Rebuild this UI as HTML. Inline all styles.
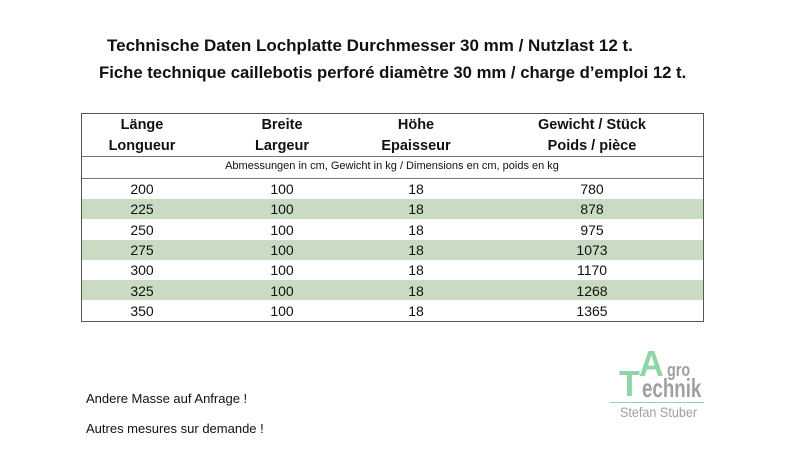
<!DOCTYPE html>
<html><head><meta charset="utf-8"><style>
body{margin:0;width:787px;height:467px;background:#fff;position:relative;font-family:"Liberation Sans","DejaVu Sans",sans-serif;color:#111;overflow:hidden}
.a{position:absolute;white-space:nowrap}
.t{font-weight:bold;font-size:17px}
.c{position:absolute;text-align:center;transform:translateX(-50%);white-space:nowrap;font-size:14px}
.h{font-weight:bold;font-size:14.5px}
.row{position:absolute;left:82px;width:621px;height:20px}
.lg{position:absolute;white-space:nowrap;transform-origin:0 0;font-weight:bold;font-family:"Liberation Sans Narrow","Liberation Sans",sans-serif}
</style></head><body>
<div class="a t" style="left:107px;top:36px">Technische Daten Lochplatte Durchmesser 30 mm / Nutzlast 12 t.</div>
<div class="a t" style="left:99px;top:63px;transform:scaleX(0.982);transform-origin:0 0">Fiche technique caillebotis perforé diamètre 30 mm / charge d’emploi 12 t.</div>
<div style="position:absolute;left:81px;top:113px;width:621px;height:207px;border:1px solid #555"></div>
<div style="position:absolute;left:82px;top:156px;width:621px;border-top:1px solid #777"></div>
<div style="position:absolute;left:82px;top:178px;width:621px;border-top:1px solid #777"></div>
<div class="row" style="top:199px;background:#c9dcc3"></div>
<div class="row" style="top:240px;background:#c9dcc3"></div>
<div class="row" style="top:280px;background:#c9dcc3"></div>
<div class="c h" style="left:142px;top:117px">Länge</div>
<div class="c h" style="left:142px;top:138px">Longueur</div>
<div class="c h" style="left:282px;top:117px">Breite</div>
<div class="c h" style="left:282px;top:138px">Largeur</div>
<div class="c h" style="left:416px;top:117px">Höhe</div>
<div class="c h" style="left:416px;top:138px">Epaisseur</div>
<div class="c h" style="left:592px;top:117px">Gewicht / Stück</div>
<div class="c h" style="left:592px;top:138px">Poids / pièce</div>
<div class="c" style="left:392px;top:160px;font-size:11px">Abmessungen in cm, Gewicht in kg / Dimensions en cm, poids en kg</div>
<div id="rows"></div>
<script>
var d=[[200,780],[225,878],[250,975],[275,1073],[300,1170],[325,1268],[350,1365]],h='';
d.forEach(function(r,i){var y=181+i*20.3;
h+='<div class="c" style="left:142px;top:'+y+'px">'+r[0]+'</div><div class="c" style="left:282px;top:'+y+'px">100</div><div class="c" style="left:416px;top:'+y+'px">18</div><div class="c" style="left:592px;top:'+y+'px">'+r[1]+'</div>';});
document.getElementById('rows').innerHTML=h;
</script>
<div class="a" style="left:86px;top:391px;font-size:13px">Andere Masse auf Anfrage !</div>
<div class="a" style="left:86px;top:421px;font-size:13px">Autres mesures sur demande !</div>
<div class="lg" style="left:639px;top:346px;font-size:36px;line-height:36px;color:#8fd6a6;transform:scaleX(0.95)">A</div>
<div class="lg" style="left:667px;top:361px;font-size:18px;line-height:18px;color:#a0a0a0;transform:scaleX(0.8)">gro</div>
<div class="lg" style="left:619px;top:366px;font-size:36px;line-height:36px;color:#8fd6a6;transform:scaleX(0.95)">T</div>
<div class="lg" style="left:642px;top:375px;font-size:26px;line-height:26px;color:#a0a0a0;transform:scaleX(0.72)">echnik</div>
<div style="position:absolute;left:610px;top:402px;width:94px;border-top:1px solid #8fd6a6"></div>
<div class="a" style="left:620px;top:404px;font-size:14px;color:#a0a0a0;transform:scaleX(0.9);transform-origin:0 0">Stefan Stuber</div>
</body></html>
